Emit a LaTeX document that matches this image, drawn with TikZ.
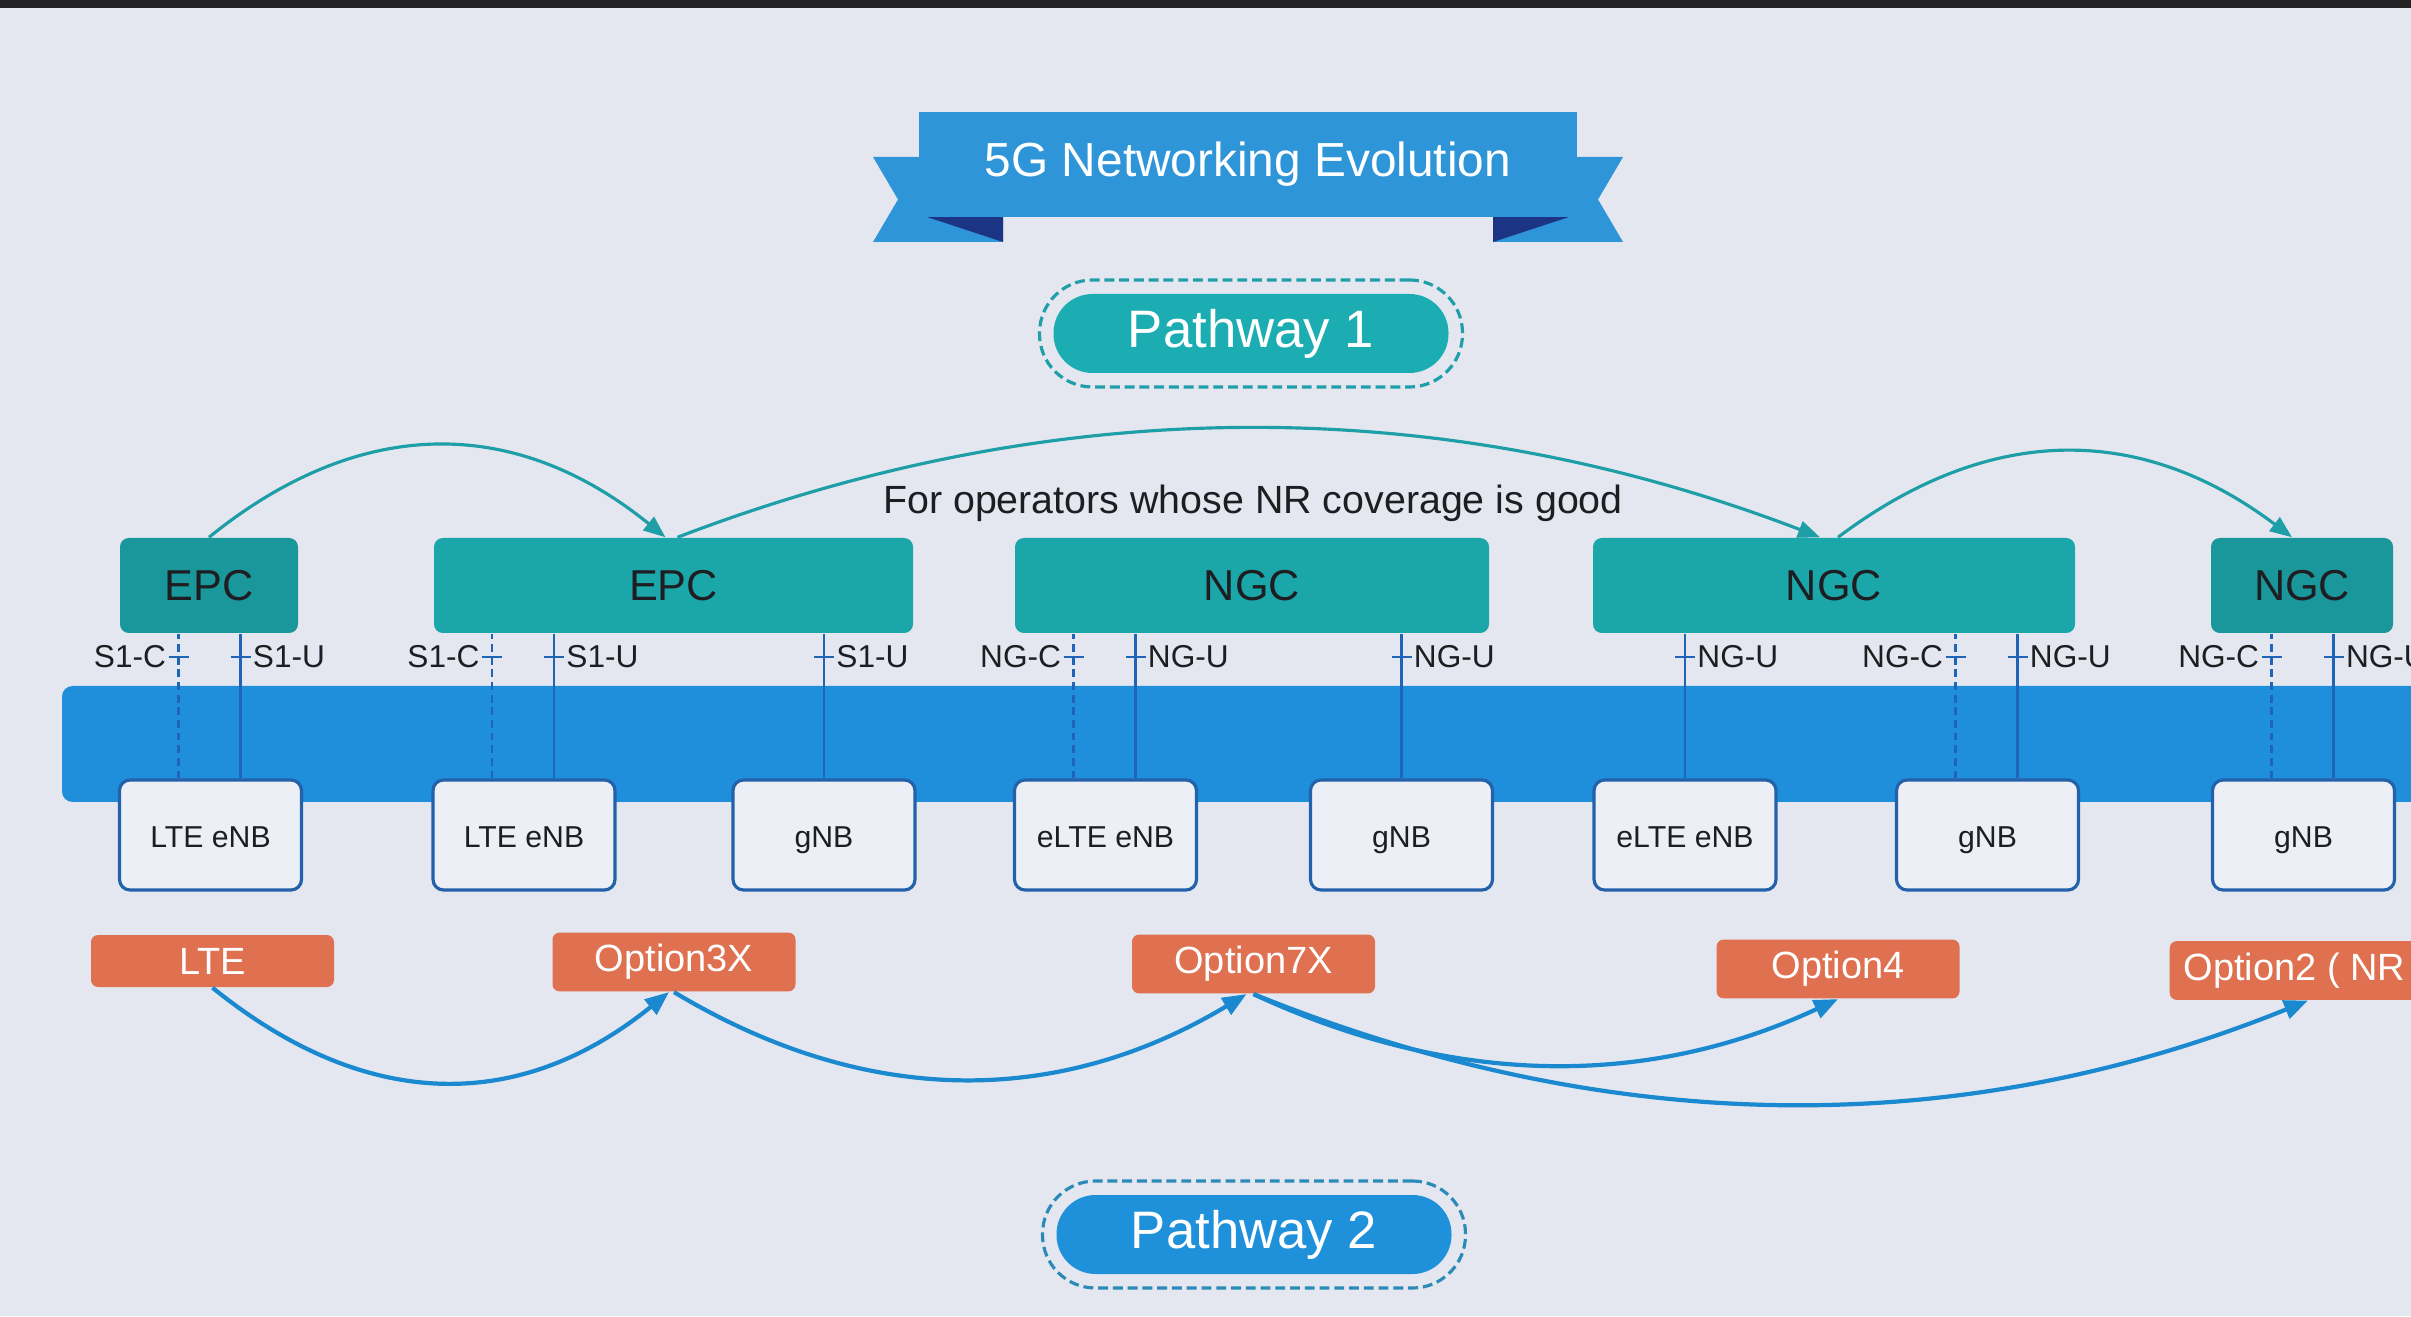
\documentclass[tikz,border=0pt]{standalone}
\usepackage{fontspec}
\setmainfont{Liberation Sans}
\usepackage{xcolor}
\definecolor{pageBack}  {HTML}{E5E7F0}
\definecolor{frameDark} {HTML}{232326}
\definecolor{ribbonBlue}{HTML}{2E95D9}
\definecolor{ribbonFold}{HTML}{1B3584}
\definecolor{pathTeal}  {HTML}{1CADB3}
\definecolor{ringTeal}  {HTML}{1E9FA9}
\definecolor{pathBlue}  {HTML}{1F90DA}
\definecolor{ringBlue}  {HTML}{2A8AB8}
\definecolor{coreTeal}  {HTML}{1BA7A9}
\definecolor{coreDark}  {HTML}{19979A}
\definecolor{bandBlue}  {HTML}{1F8EDB}
\definecolor{ranFill}   {HTML}{EDEFF7}
\definecolor{ranEdge}   {HTML}{2361AA}
\definecolor{ifLine}    {HTML}{2064B8}
\definecolor{optOrange} {HTML}{DF7050}
\definecolor{arcBlue}   {HTML}{1B89D0}
\definecolor{arcTeal}   {HTML}{1E9EA6}
\definecolor{bodyText}  {HTML}{1E1E22}
\usetikzlibrary{arrows.meta, positioning, calc}

\begin{document}
\begin{tikzpicture}[
    every node/.style={font=\fontsize{9}{10}\selectfont, text=bodyText},
    core/.style={rectangle, rounded corners=2.5pt, minimum height=9.5mm,
                 font=\fontsize{12.3}{14}\selectfont},
    ran/.style={draw=ranEdge, line width=0.9pt, fill=ranFill, rounded corners=3pt,
                minimum width=18.2mm, minimum height=11mm, text height=1.6ex,
                text depth=0.3ex, font=\fontsize{8.6}{10}\selectfont},
    opt/.style={fill=optOrange, rounded corners=2pt, minimum width=24.3mm,
                minimum height=5.2mm, text=white, font=\fontsize{10.8}{12}\selectfont},
    pill/.style={rounded corners=3.9mm, minimum width=39.5mm, minimum height=7.9mm,
                 text=white, font=\fontsize{15}{17}\selectfont},
    ring/.style={dash pattern=on 2.8pt off 1.4pt, line width=0.9pt,
                 rounded corners=5.3mm, minimum width=42.3mm, minimum height=10.7mm},
    lab/.style={font=\fontsize{9}{10}\selectfont, inner sep=0.5pt},
    cline/.style={ifLine, line width=0.7pt, dash pattern=on 2.2pt off 1.4pt},
    uline/.style={ifLine, line width=0.7pt},
    arcup/.style={-{Triangle[length=2.2mm,width=1.7mm]}, arcTeal, line width=0.9pt},
    arcdown/.style={-{Triangle[length=2.4mm,width=1.9mm]}, arcBlue, line width=1.2pt}
]
\useasboundingbox (0,0) rectangle (24.11,13.16);
\fill[pageBack] (0,0) rectangle (24.11,13.16);
\fill[frameDark] (0,13.08) rectangle (24.11,13.16);

% Ribbon
\fill[ribbonBlue] (8.73,11.59) -- (10.03,11.59) -- (10.03,10.74) -- (8.73,10.74) -- (8.98,11.165) -- cycle;
\fill[ribbonBlue] (16.23,11.59) -- (14.93,11.59) -- (14.93,10.74) -- (16.23,10.74) -- (15.98,11.165) -- cycle;
\fill[ribbonFold] (9.27,10.99) -- (10.03,10.99) -- (10.03,10.74) -- cycle;
\fill[ribbonFold] (15.69,10.99) -- (14.93,10.99) -- (14.93,10.74) -- cycle;
\node[fill=ribbonBlue, minimum width=65.8mm, minimum height=10.5mm, text=white,
      font=\fontsize{13.6}{15}\selectfont] (title) at (12.48,11.515) {5G Networking Evolution};

% Pathway 1
\node[ring, draw=ringTeal] (ringA) at (12.51,9.825) {};
\node[pill, fill=pathTeal] (pathA) at (12.51,9.825) {Pathway 1};
\node[font=\fontsize{11.2}{13}\selectfont] (note) at (12.53,8.13) {For operators whose NR coverage is good};

% Core networks
\foreach \n/\x/\w/\c/\t in {epcA/2.09/17.8mm/coreDark/EPC, epcB/6.735/47.9mm/coreTeal/EPC,
    ngcA/12.52/47.4mm/coreTeal/NGC, ngcB/18.34/48.2mm/coreTeal/NGC,
    ngcC/23.02/18.2mm/coreDark/NGC} {
    \node[core, fill=\c, minimum width=\w] (\n) at (\x,7.305) {\t};
}

% Transport band
\fill[bandBlue, rounded corners=3pt] (0.62,5.14) rectangle (24.6,6.30);

% Radio access
\foreach \n/\x/\t in {enbA/2.105/LTE eNB, enbB/5.24/LTE eNB, gnbA/8.24/gNB,
    elteA/11.055/eLTE eNB, gnbB/14.015/gNB, elteB/16.85/eLTE eNB,
    gnbC/19.875/gNB, gnbD/23.035/gNB} {
    \node[ran] (\n) at (\x,4.81) {\t};
}

% Interfaces
\foreach \r/\o/\c/\s/\t/\a/\d [count=\i] in {
    enbA/-3.2mm/epcA/cline/S1-C/east/-1mm, enbA/3mm/epcA/uline/S1-U/west/1mm,
    enbB/-3.2mm/epcB/cline/S1-C/east/-1mm, enbB/3mm/epcB/uline/S1-U/west/1mm,
    gnbA/0mm/epcB/uline/S1-U/west/1mm,
    elteA/-3.2mm/ngcA/cline/NG-C/east/-1mm, elteA/3mm/ngcA/uline/NG-U/west/1mm,
    gnbB/0mm/ngcA/uline/NG-U/west/1mm,
    elteB/0mm/ngcB/uline/NG-U/west/1mm,
    gnbC/-3.2mm/ngcB/cline/NG-C/east/-1mm, gnbC/3mm/ngcB/uline/NG-U/west/1mm,
    gnbD/-3.2mm/ngcC/cline/NG-C/east/-1mm, gnbD/3mm/ngcC/uline/NG-U/west/1mm} {
    \path ([xshift=\o]\r.north) coordinate (lo\i)
          ([xshift=\o]\r.north |- \c.south) coordinate (hi\i);
    \draw[\s] (lo\i) -- (hi\i);
    \coordinate (tk\i) at (lo\i |- 0,6.59);
    \draw[uline] ([xshift=-1mm]tk\i) -- ([xshift=1mm]tk\i);
    \node[lab, anchor=\a] (if\i) at ([xshift=\d]tk\i) {\t};
}

% Pathway 1 arcs
\draw[arcup] (epcA.north) to[out=39, in=141, looseness=1.09] ([xshift=-0.8mm]epcB.north);
\draw[arcup] ([xshift=0.4mm]epcB.north) to[out=21, in=159, looseness=0.91] ([xshift=-1.4mm]ngcB.north);
\draw[arcup] ([xshift=0.4mm]ngcB.north) to[out=37, in=143, looseness=1.07] ([xshift=-1mm]ngcC.north);

% Deployment options
\foreach \n/\x/\y/\t in {optA/2.125/3.55/LTE, optB/6.74/3.54/Option3X,
    optC/12.535/3.52/Option7X, optD/18.38/3.47/Option4} {
    \node[opt] (\n) at (\x,\y) {\t};
}
\node[opt, anchor=west, minimum width=0pt, inner xsep=1.4mm] (optE) at (21.69,3.455) {Option2 ( NR )};

% Pathway 2 arcs
\draw[arcdown] (optA.south) to[out=-39, in=-141, looseness=1.09] ([xshift=-0.5mm]optB.south);
\draw[arcdown] (optB.south) to[out=-31, in=-149, looseness=0.99] ([xshift=-0.7mm]optC.south);
\draw[arcdown] (optC.south) to[out=-25, in=-155, looseness=0.94] (optD.south);
\draw[arcdown] (optC.south) to[out=-22, in=-158, looseness=0.92] ([xshift=13.9mm]optE.south west);

% Pathway 2
\node[ring, draw=ringBlue] (ringB) at (12.54,0.815) {};
\node[pill, fill=pathBlue] (pathB) at (12.54,0.815) {Pathway 2};
\end{tikzpicture}
\end{document}
